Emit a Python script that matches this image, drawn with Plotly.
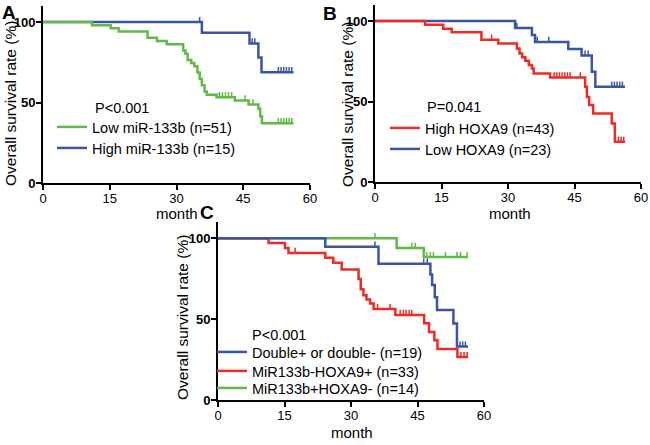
import plotly.graph_objects as go

# ---------------- data (months, % survival) ----------------
# Panel A
a_low_times = [0, 11.0, 15.2, 17.0, 23.5, 25.6, 27.8, 31.5, 32.0, 32.5, 33.3, 34.0, 34.7, 35.2, 35.7, 36.3, 36.8, 39.0, 43.1, 46.2, 48.4, 48.8, 49.2]
a_low_surv = [100, 98.0, 96.1, 94.1, 90.2, 88.2, 86.3, 82.4, 80.4, 76.5, 74.5, 72.5, 68.6, 64.7, 60.8, 56.9, 54.9, 53.3, 51.3, 48.8, 46.3, 41.5, 37.2]
a_low_cens = [39.6, 40.3, 41.0, 41.7, 42.4, 45.4, 47.2, 52.9, 53.5, 54.1, 54.7, 55.3, 55.9]
a_low_end = 56.3
a_high_times = [0, 35.7, 46.4, 48.4, 49.1]
a_high_surv = [100, 93.3, 86.7, 78.0, 68.9]
a_high_cens = [35.2, 47.0, 47.6, 52.9, 53.5, 54.1, 54.7, 55.3, 55.9]
a_high_end = 56.3

# Panel B
b_high_times = [0, 11.3, 15.4, 17.3, 24.0, 27.8, 32.0, 32.6, 33.2, 33.9, 34.7, 35.4, 35.8, 39.5, 47.4, 47.8, 48.3, 49.2, 53.4, 54.1]
b_high_surv = [100, 97.7, 95.3, 93.0, 88.4, 86.1, 83.0, 79.9, 77.5, 75.4, 72.7, 70.6, 67.5, 65.0, 59.2, 52.9, 47.8, 42.6, 36.4, 25.0]
b_high_cens = [26.3, 40.4, 41.0, 41.6, 42.2, 42.8, 43.4, 44.0, 46.3, 54.9, 55.5, 56.1]
b_high_end = 56.4
b_low_times = [0, 31.6, 35.4, 36.1, 43.6, 46.6, 48.9, 49.7]
b_low_surv = [100, 95.7, 91.3, 87.0, 82.6, 78.6, 68.5, 59.2]
b_low_cens = [32.0, 36.6, 39.2, 47.4, 48.1, 53.4, 54.0, 54.6, 55.2, 55.8]
b_low_end = 56.4

# Panel C
c_dbl_times = [0, 24.2, 36.2, 47.9, 48.3, 48.9, 49.4, 53.1, 53.9]
c_dbl_surv = [100, 94.7, 84.2, 77.5, 71.0, 63.5, 55.6, 47.3, 33.0]
c_dbl_cens = [35.4, 46.4, 47.2, 54.6, 55.2, 55.8]
c_dbl_end = 56.4
c_red_times = [0, 11.4, 15.1, 15.9, 24.2, 26.0, 27.9, 31.7, 32.2, 32.8, 33.5, 34.3, 35.1, 40.0, 46.5, 47.6, 48.8, 49.5, 54.0]
c_red_surv = [100, 97.0, 93.9, 90.9, 87.9, 84.8, 80.6, 74.8, 68.5, 64.8, 62.1, 59.6, 56.2, 52.5, 47.5, 42.0, 37.0, 31.5, 26.5]
c_red_cens = [17.4, 36.0, 38.8, 41.1, 41.8, 42.4, 43.1, 43.7, 54.8, 55.5, 56.2]
c_red_end = 56.4
c_grn_times = [0, 40.3, 46.4]
c_grn_surv = [100, 94.0, 88.3]
c_grn_cens = [35.4, 43.7, 44.5, 47.1, 47.9, 48.6, 51.3, 53.9, 54.7, 56.2]
c_grn_end = 56.4

month_ticks = [0, 15, 30, 45, 60]
surv_ticks = [0, 50, 100]

GREEN = "#62B946"
BLUE = "#3A55A4"
RED = "#EE2B24"
FONT = "Arial, Liberation Sans, sans-serif"

W, H = 650, 445
def px(x):
    return x / W
def py(y):
    return 1 - y / H

fig = go.Figure()

def surv_at(times, vals, t):
    idx = 0
    for i, tt in enumerate(times):
        if tt <= t:
            idx = i
    return vals[idx]

def add_curve(times, vals, cens, end, color, name, xa, ya, legend):
    fig.add_trace(go.Scatter(
        x=list(times) + [end], y=list(vals) + [vals[-1]],
        mode="lines", line=dict(color=color, width=2.5, shape="hv"),
        name=name, xaxis=xa, yaxis=ya, legend=legend, showlegend=True,
        hoverinfo="skip"))
    cx, cy = [], []
    for c in cens:
        s = surv_at(times, vals, c)
        cx += [c, c, None]
        cy += [s, s + 3.2, None]
    fig.add_trace(go.Scatter(
        x=cx, y=cy, mode="lines", line=dict(color=color, width=1.5),
        xaxis=xa, yaxis=ya, showlegend=False, hoverinfo="skip"))

# Panel A: blue beneath green
add_curve(a_high_times, a_high_surv, a_high_cens, a_high_end, BLUE, "High miR-133b (n=15)", "x", "y", "legend2")
add_curve(a_low_times, a_low_surv, a_low_cens, a_low_end, GREEN, "Low miR-133b (n=51)", "x", "y", "legend")
# Panel B
add_curve(b_low_times, b_low_surv, b_low_cens, b_low_end, BLUE, "Low HOXA9 (n=23)", "x2", "y2", "legend4")
add_curve(b_high_times, b_high_surv, b_high_cens, b_high_end, RED, "High HOXA9 (n=43)", "x2", "y2", "legend3")
# Panel C
add_curve(c_grn_times, c_grn_surv, c_grn_cens, c_grn_end, GREEN, "MiR133b+HOXA9- (n=14)", "x3", "y3", "legend7")
add_curve(c_red_times, c_red_surv, c_red_cens, c_red_end, RED, "MiR133b-HOXA9+ (n=33)", "x3", "y3", "legend6")
add_curve(c_dbl_times, c_dbl_surv, c_dbl_cens, c_dbl_end, BLUE, "Double+ or double- (n=19)", "x3", "y3", "legend5")

def xaxis_cfg(x0, x1, anchor):
    return dict(domain=[px(x0), px(x1)], anchor=anchor, range=[0, 60],
                tickvals=month_ticks, ticktext=[str(v) for v in month_ticks],
                showline=True, linewidth=2, linecolor="black", mirror=False,
                ticks="outside", ticklen=5, tickwidth=2, tickcolor="black",
                ticklabelstandoff=-3,
                showgrid=False, zeroline=False, automargin=False,
                tickfont=dict(family=FONT, size=13, color="black"))

def yaxis_cfg(y0, y1, anchor):
    return dict(domain=[py(y0), py(y1)], anchor=anchor, range=[0, 110],
                tickvals=surv_ticks, ticktext=[str(v) for v in surv_ticks],
                showline=True, linewidth=2, linecolor="black",
                ticks="outside", ticklen=5, tickwidth=2, tickcolor="black",
                ticklabelstandoff=-2,
                showgrid=False, zeroline=False, automargin=False,
                tickfont=dict(family=FONT, size=13, color="black", weight="bold"))

layout = dict(
    width=W, height=H, margin=dict(l=0, r=0, t=0, b=0, autoexpand=False),
    paper_bgcolor="white", plot_bgcolor="white",
    font=dict(family=FONT, color="black"),
    xaxis=xaxis_cfg(43, 310, "y"), yaxis=yaxis_cfg(183, 6, "x"),
    xaxis2=xaxis_cfg(375, 641, "y2"), yaxis2=yaxis_cfg(182, 5, "x2"),
    xaxis3=xaxis_cfg(218, 484, "y3"), yaxis3=yaxis_cfg(400, 222, "x3"),
)

# legends: one per row for exact placement
def leg(text_x, row_y):
    return dict(x=px(text_x - 40), y=py(row_y), xanchor="left", yanchor="middle",
                bgcolor="rgba(0,0,0,0)", borderwidth=0,
                font=dict(family=FONT, size=14.5, color="black"),
                itemwidth=30, tracegroupgap=0)

layout["legend"] = leg(92, 127)
layout["legend2"] = leg(92, 148)
layout["legend3"] = leg(425, 128)
layout["legend4"] = leg(425, 149)
layout["legend5"] = leg(252, 352)
layout["legend6"] = leg(252, 371)
layout["legend7"] = leg(252, 388)

fig.update_layout(**layout)

ann = []
def text(x, y, s, size, bold=False, angle=0, xanchor="center"):
    ann.append(dict(x=px(x), y=py(y), xref="paper", yref="paper", text=s,
                    showarrow=False, textangle=angle, xanchor=xanchor, yanchor="middle",
                    font=dict(family=FONT, size=size, color="black",
                              weight="bold" if bold else "normal")))

text(8.5, 12, "A", 19, bold=True)
text(330, 13, "B", 19, bold=True)
text(207, 212, "C", 19, bold=True)

text(10, 104, "Overall survival rate (%)", 15.5, angle=-90)
text(347, 105, "Overall survival rate (%)", 15.5, angle=-90)
text(182, 318, "Overall survival rate (%)", 15.5, angle=-90)

text(177, 213, "month", 15)
text(510, 213, "month", 15)
text(352, 432, "month", 15)

text(93, 108, "P<0.001", 14.5, xanchor="left")
text(425, 107, "P=0.041", 14.5, xanchor="left")
text(250, 335, "P<0.001", 14.5, xanchor="left")

fig.update_layout(annotations=ann)

fig.write_html("out.html", config={"displayModeBar": False},
               post_script="document.body.style.margin='0';")
